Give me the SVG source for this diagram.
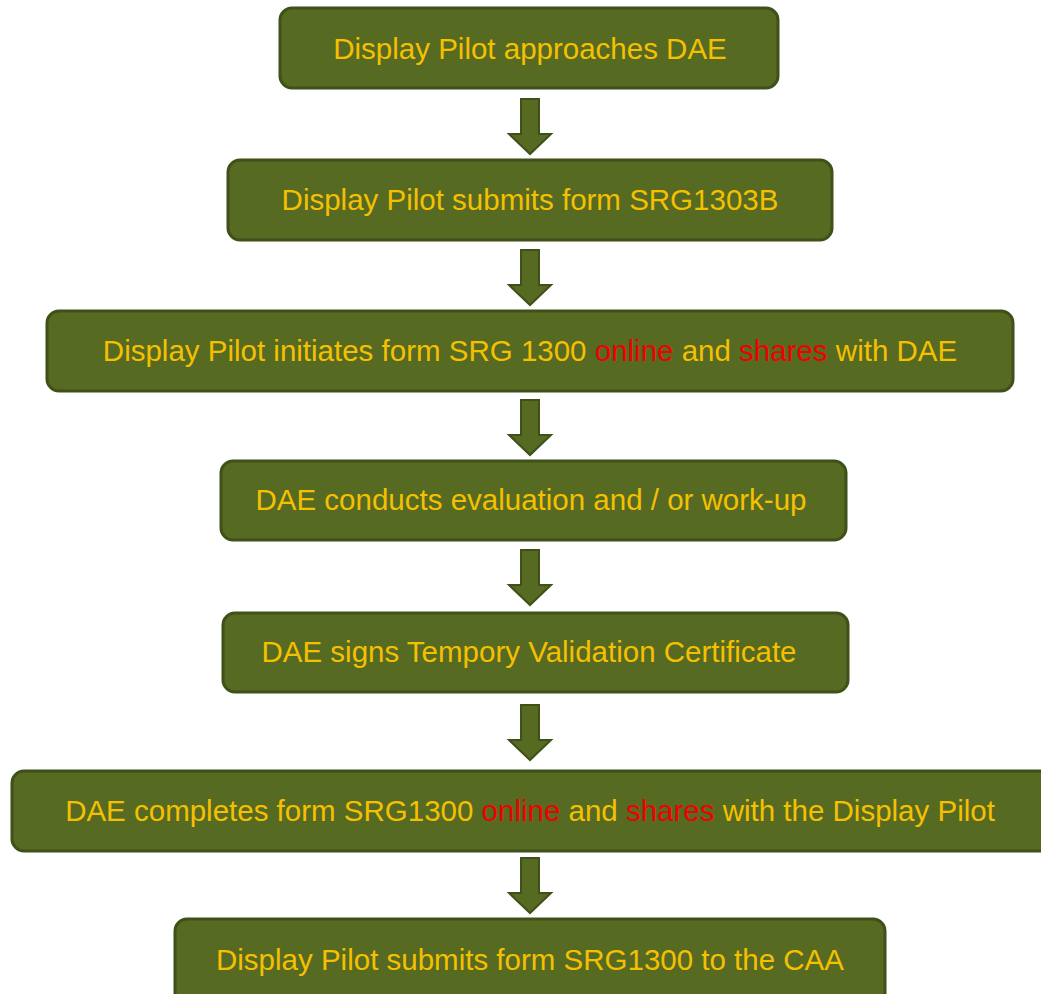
<svg xmlns="http://www.w3.org/2000/svg" width="1041" height="994" viewBox="0 0 1041 994">
<defs>
<style>
.box{fill:#566A22;stroke:#3F5118;stroke-width:3}
.t{font-family:"Liberation Sans",Arial,sans-serif;font-size:29.5px;fill:#F5C000;text-anchor:middle}
.r{fill:#F00000}
.arr{fill:#566A22;stroke:#3F5118;stroke-width:2;stroke-linejoin:miter}
</style>
<path id="ah" d="M-9,0 H9 V35 H21 L0,55 L-21,35 H-9 Z"/>
</defs>
<rect width="1041" height="994" fill="#ffffff"/>
<g id="connectors">
<use href="#ah" class="arr" x="530" y="99"/>
<use href="#ah" class="arr" x="530" y="250"/>
<use href="#ah" class="arr" x="530" y="400"/>
<use href="#ah" class="arr" x="530" y="550"/>
<use href="#ah" class="arr" x="530" y="705"/>
<use href="#ah" class="arr" x="530" y="858"/>
</g>
<g id="n1"><rect class="box" x="280" y="8" width="498" height="80" rx="12"/><text class="t" x="530" y="59">Display Pilot approaches DAE</text></g>
<g id="n2"><rect class="box" x="228" y="160" width="604" height="80" rx="12"/><text class="t" x="530" y="210">Display Pilot submits form SRG1303B</text></g>
<g id="n3"><rect class="box" x="47" y="311" width="966" height="80" rx="12"/><text class="t" x="530" y="361">Display Pilot initiates form SRG 1300 <tspan class="r">online</tspan> and <tspan class="r">shares</tspan> with DAE</text></g>
<g id="n4"><rect class="box" x="221" y="461" width="625" height="79" rx="12"/><text class="t" x="531" y="510">DAE conducts evaluation and / or work-up</text></g>
<g id="n5"><rect class="box" x="223" y="613" width="625" height="79" rx="12"/><text class="t" x="529" y="662">DAE signs Tempory Validation Certificate</text></g>
<g id="n6"><rect class="box" x="12" y="771" width="1040" height="80" rx="12"/><text class="t" x="530" y="821">DAE completes form SRG1300 <tspan class="r">online</tspan> and <tspan class="r">shares</tspan> with the Display Pilot</text></g>
<g id="n7"><rect class="box" x="175" y="919" width="710" height="90" rx="12"/><text class="t" x="530" y="970">Display Pilot submits form SRG1300 to the CAA</text></g>
</svg>
